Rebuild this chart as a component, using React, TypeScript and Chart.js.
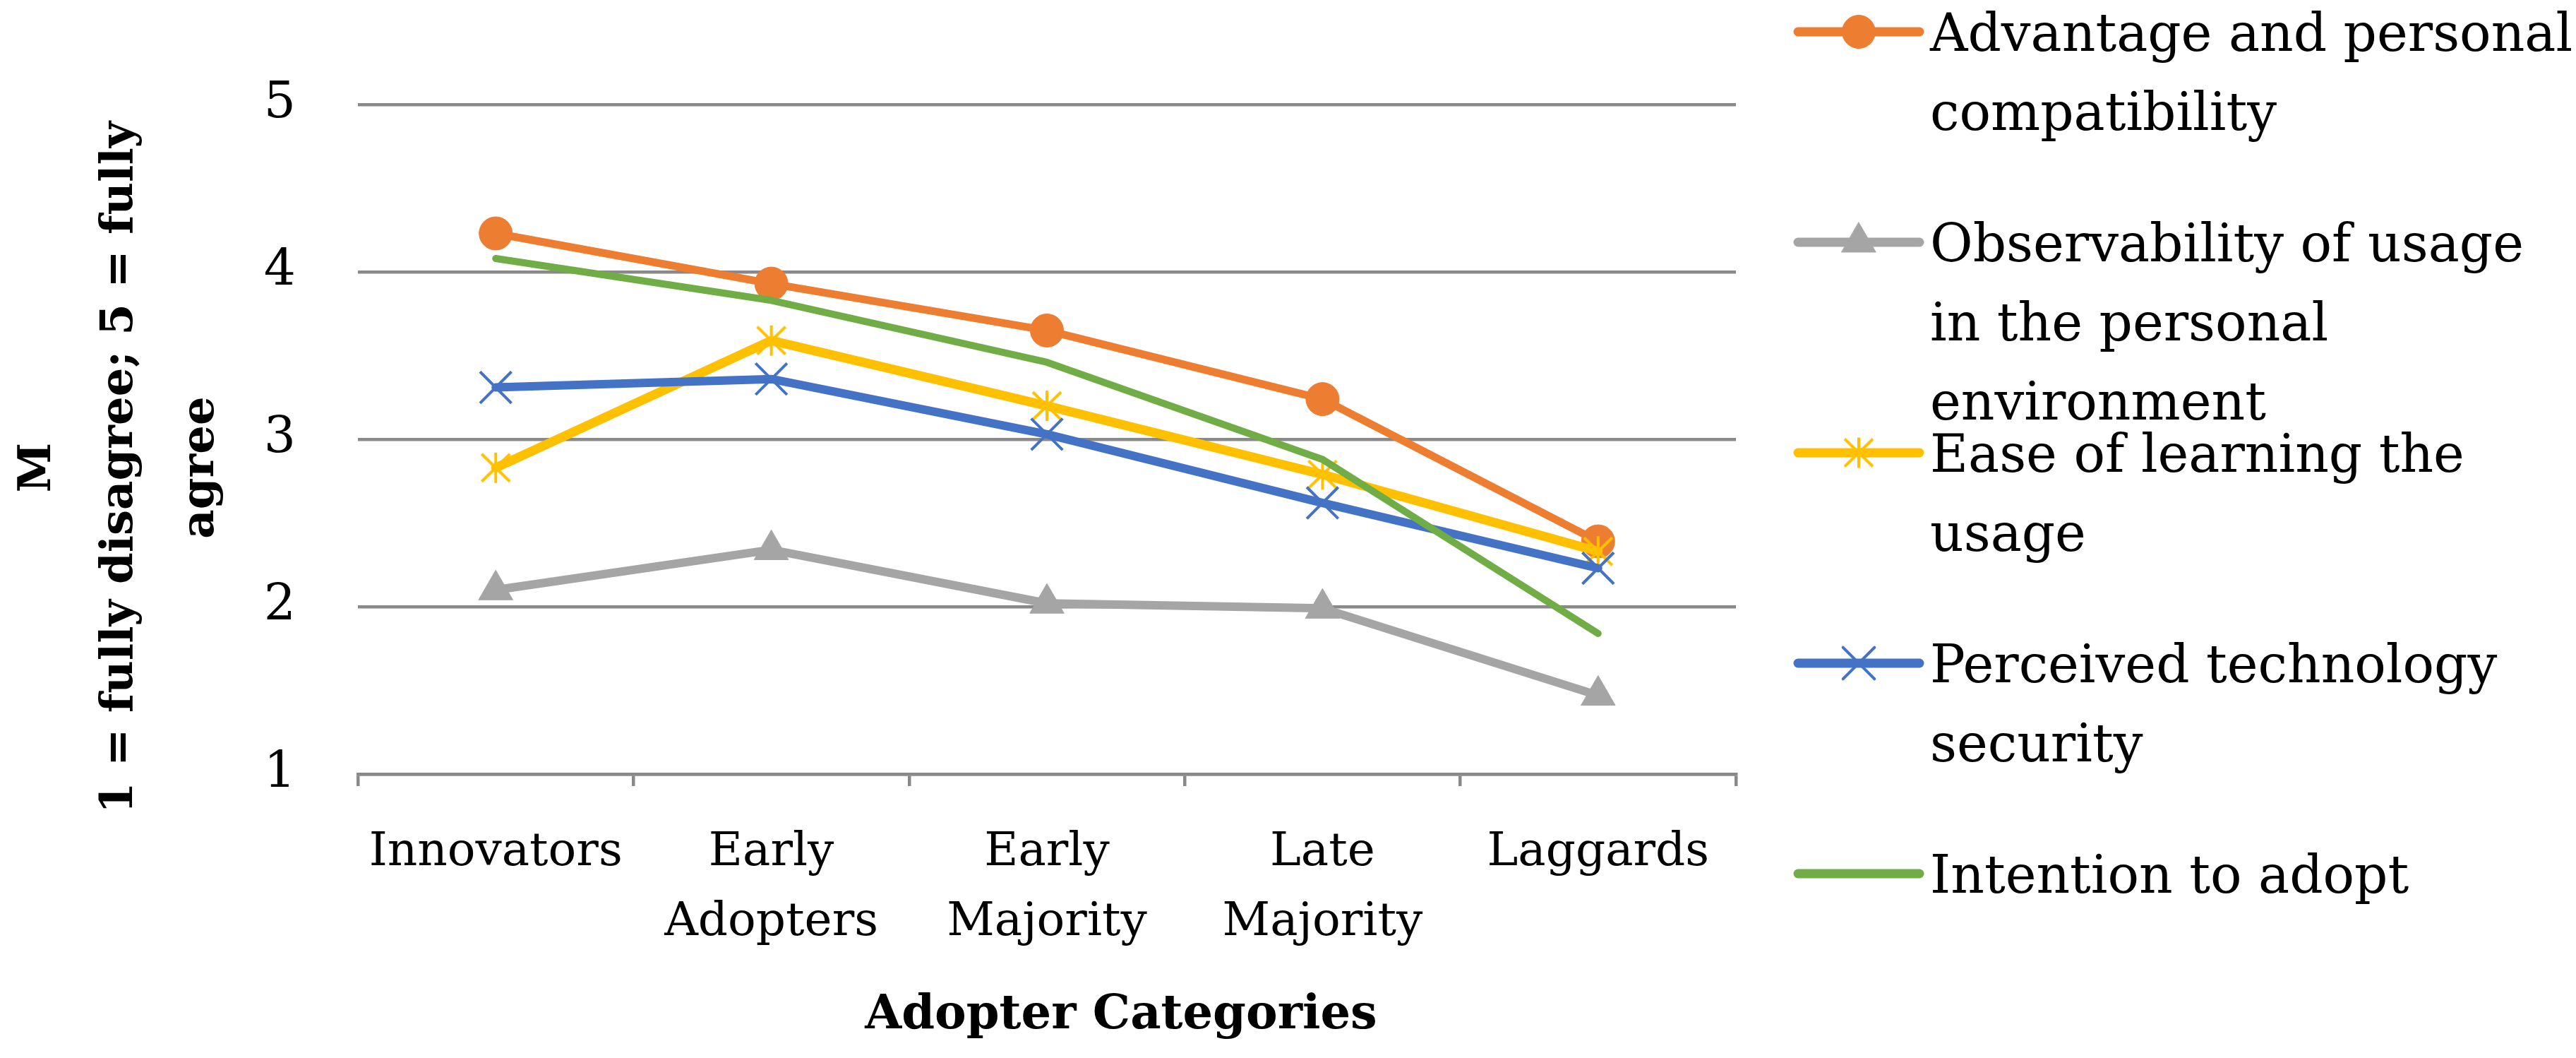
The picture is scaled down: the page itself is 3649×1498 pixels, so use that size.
import React, { useEffect, useRef } from "react";
import { Chart, registerables } from "chart.js";
import { drawPoint } from "chart.js/helpers";

Chart.register(...registerables);

// ---------- data ----------
const categories: string[][] = [
  ["Innovators"],
  ["Early", "Adopters"],
  ["Early", "Majority"],
  ["Late", "Majority"],
  ["Laggards"],
];

const seriesNames = [
  "Advantage and personal compatibility",
  "Observability of usage in the personal environment",
  "Ease of learning the usage",
  "Perceived technology security",
  "Intention to adopt",
];

const legendLines: string[][] = [
  ["Advantage and personal", "compatibility"],
  ["Observability of usage", "in the personal", "environment"],
  ["Ease of learning the", "usage"],
  ["Perceived technology", "security"],
  ["Intention to adopt"],
];

const advantage = [4.23, 3.93, 3.65, 3.24, 2.39];
const observability = [2.1, 2.34, 2.02, 1.99, 1.47];
const easeOfLearning = [2.83, 3.59, 3.2, 2.79, 2.33];
const security = [3.31, 3.36, 3.03, 2.62, 2.23];
const intention = [4.08, 3.83, 3.46, 2.88, 1.84];

const yMin = 1;
const yMax = 5;
const yStep = 1;

const xTitle = "Adopter Categories";
const yTitleLines = ["M", "1 = fully disagree; 5 = fully", "agree"];

// ---------- styles ----------
const W = 3649;
const H = 1498;
const FONT = '"DejaVu Serif", serif';
const GRID = "#898989";
const COLORS = ["#ED7D31", "#A5A5A5", "#FFC000", "#4472C4", "#70AD47"];

function makeAsterisk(color: string): HTMLCanvasElement {
  const c = document.createElement("canvas");
  const w = 46;
  const h = 45;
  c.width = w;
  c.height = h;
  const ctx = c.getContext("2d")!;
  ctx.strokeStyle = color;
  ctx.lineWidth = 4;
  ctx.beginPath();
  ctx.moveTo(w / 2, 1);
  ctx.lineTo(w / 2, h - 1);
  ctx.moveTo(3, 3);
  ctx.lineTo(w - 3, h - 3);
  ctx.moveTo(w - 3, 3);
  ctx.lineTo(3, h - 3);
  ctx.stroke();
  return c;
}

const App: React.FC = () => {
  const ref = useRef<HTMLCanvasElement | null>(null);

  useEffect(() => {
    if (!ref.current) return;
    const asterisk = makeAsterisk(COLORS[2]);

    const values = [advantage, observability, easeOfLearning, security, intention];
    const pointStyles: any[] = ["circle", "triangle", asterisk, "crossRot", false];
    const pointRadii = [23.5, 28, 23, 31.5, 0];
    const pointBorders = [1, 1, 4, 4, 0];
    const lineWidths = [11, 12, 13, 12, 10];
    const orders = [4, 3, 2, 1, 0];

    const datasets = values.map((v, i) => ({
      label: seriesNames[i],
      data: v,
      borderColor: COLORS[i],
      backgroundColor: COLORS[i],
      pointBackgroundColor: COLORS[i],
      pointBorderColor: COLORS[i],
      pointStyle: pointStyles[i],
      pointRadius: pointRadii[i],
      pointHoverRadius: pointRadii[i],
      pointBorderWidth: pointBorders[i],
      borderWidth: lineWidths[i],
      borderCapStyle: "round" as const,
      borderJoinStyle: "round" as const,
      tension: 0,
      fill: false,
      order: orders[i],
    }));

    const decor = {
      id: "decor",
      afterDraw(chart: any) {
        const ctx: CanvasRenderingContext2D = chart.ctx;
        ctx.save();
        ctx.fillStyle = "#000";
        // y title (rotated, three lines)
        ctx.font = `bold 64px ${FONT}`;
        ctx.textAlign = "center";
        ctx.textBaseline = "alphabetic";
        const yBaselines = [71, 187, 302];
        yTitleLines.forEach((line, i) => {
          ctx.save();
          ctx.translate(yBaselines[i], 662);
          ctx.rotate(-Math.PI / 2);
          ctx.fillText(line, 0, 0);
          ctx.restore();
        });
        // x title
        ctx.font = `bold 67px ${FONT}`;
        ctx.fillText(xTitle, 1588, 1456);

        // legend
        chart.data.datasets.forEach((ds: any, i: number) => {
          const y = 45 + i * 298;
          ctx.strokeStyle = ds.borderColor;
          ctx.lineWidth = 13;
          ctx.lineCap = "round";
          ctx.beginPath();
          ctx.moveTo(2547, y);
          ctx.lineTo(2719, y);
          ctx.stroke();
          if (ds.pointStyle) {
            ctx.fillStyle = ds.pointBackgroundColor;
            ctx.strokeStyle = ds.pointBorderColor;
            ctx.lineWidth = ds.pointBorderWidth;
            drawPoint(
              ctx,
              {
                pointStyle: ds.pointStyle,
                radius: ds.pointRadius,
                rotation: 0,
                borderWidth: ds.pointBorderWidth,
              } as any,
              2633,
              y
            );
          }
          ctx.fillStyle = "#000";
          ctx.font = `74px ${FONT}`;
          ctx.textAlign = "left";
          legendLines[i].forEach((t, j) => {
            ctx.fillText(t, 2734, y + 27 + j * 112);
          });
        });
        ctx.restore();
      },
    };

    const chart = new Chart(ref.current, {
      type: "line",
      data: { labels: categories as any, datasets },
      options: {
        responsive: false,
        animation: false,
        devicePixelRatio: 1,
        events: [],
        layout: { padding: { left: 0, top: 148, right: W - 2459, bottom: 0 } },
        plugins: {
          legend: { display: false },
          tooltip: { enabled: false },
          title: { display: false },
        },
        scales: {
          x: {
            type: "category",
            offset: true,
            grid: {
              offset: true,
              drawOnChartArea: false,
              drawTicks: true,
              tickLength: 17,
              color: GRID,
              lineWidth: 4.5,
            },
            border: { display: true, color: GRID, width: 4.5 },
            ticks: {
              color: "#000",
              padding: 45,
              maxRotation: 0,
              autoSkip: false,
              font: { family: FONT, size: 66, lineHeight: 1.5 },
            },
            afterFit(scale: any) {
              scale.height = H - 1096;
            },
          },
          y: {
            min: yMin,
            max: yMax,
            ticks: {
              stepSize: yStep,
              color: "#000",
              padding: 88,
              font: { family: FONT, size: 71 },
            },
            grid: { color: GRID, lineWidth: 4.5, drawTicks: false },
            border: { display: false },
            afterFit(scale: any) {
              scale.width = 507;
            },
          },
        },
      },
      plugins: [decor],
    });

    return () => chart.destroy();
  }, []);

  return (
    <div
      style={{
        position: "absolute",
        left: 0,
        top: 0,
        width: W,
        height: H,
        background: "#fff",
      }}
    >
      <canvas ref={ref} width={W} height={H} style={{ display: "block" }} />
    </div>
  );
};

export default App;
